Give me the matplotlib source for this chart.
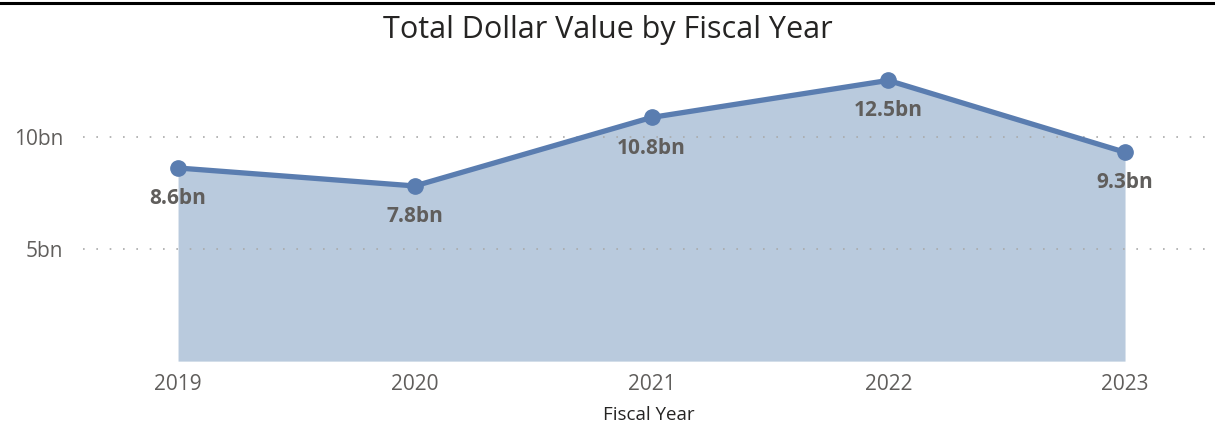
# plot.py
# Total Dollar Value by Fiscal Year（面积折线图）

import matplotlib
matplotlib.use('Agg')
import matplotlib.pyplot as plt
plt.rcParams['font.family'] = ['Open Sans', 'DejaVu Sans']

# -----------------数据
years = [2019, 2020, 2021, 2022, 2023]
values = [8.6, 7.8, 10.85, 12.5, 9.3]  # 单位：bn
labels = ['8.6bn', '7.8bn', '10.8bn', '12.5bn', '9.3bn']
yticks = [5, 10]
yticklabels = ['5bn', '10bn']

# -----------------颜色
line_c = '#5A7DB0'
fill_c = '#B9CADD'
text_c = '#605E5C'

fig = plt.figure(figsize=(12.15, 4.33), dpi=100)
ax = fig.add_axes([0.068, 0.166, 0.932, 0.695])

ax.fill_between(years, values, 0, color=fill_c, linewidth=0)
ax.plot(years, values, color=line_c, linewidth=3.8, marker='o', markersize=11,
        solid_capstyle='round', zorder=3)
for x, y, s in zip(years, values, labels):
    ax.annotate(s, (x, y), xytext=(0, -22), textcoords='offset points',
                ha='center', va='center', fontsize=15, fontweight='bold', color=text_c)

ax.set_xlim(2019 - 0.403, 2023 + 0.38)
ax.set_ylim(0, 13.4)
ax.set_xticks(years)
ax.set_xticklabels([str(y) for y in years])
ax.set_yticks(yticks)
ax.set_yticklabels(yticklabels)
ax.tick_params(length=0, labelsize=15, labelcolor=text_c, pad=9)
ax.tick_params(axis='y', pad=14)
ax.yaxis.grid(True, linestyle=(0, (1, 7)), color='#AAAAAA', linewidth=1.2)
for sp in ax.spines.values():
    sp.set_visible(False)
for gl in ax.get_ygridlines():
    gl.set_zorder(1.5)

ax.set_xlabel('Fiscal Year', fontsize=13.5, color='#252423', labelpad=8)
fig.text(0.5, 0.93, 'Total Dollar Value by Fiscal Year', ha='center', va='center',
         fontsize=22, color='#252423')
fig.add_artist(plt.Line2D([0, 1], [0.993, 0.993], color='black', linewidth=2.2))

fig.savefig('out.png', dpi=100)
